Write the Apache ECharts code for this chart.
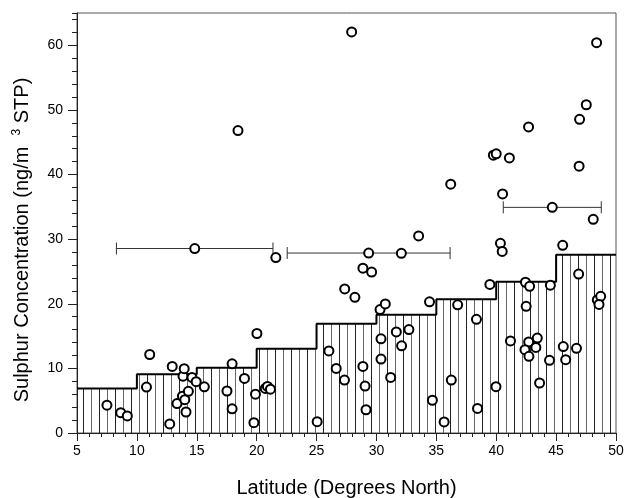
<!DOCTYPE html>
<html>
<head>
<meta charset="utf-8">
<script src="https://cdn.jsdelivr.net/npm/echarts@6/dist/echarts.min.js"></script>
<style>
  html, body { margin: 0; padding: 0; background: #fff; }
  #main { width: 626px; height: 498px; }
</style>
</head>
<body>
<div id="main"></div>
<script>
// sample points, latitude (deg N) and sulphur (ng/m3 STP)
var latitude = [7.5, 8.65, 9.2, 10.8, 11.07, 12.74, 12.95, 13.35, 13.8, 14.0, 14.1, 14.3,
  13.85, 13.95, 14.6, 14.95, 15.63, 17.52, 17.95, 17.95, 18.98, 19.77, 19.9, 20.02,
  20.72, 20.9, 21.15, 18.44, 14.83, 21.6, 25.05,
  26.03, 26.64, 27.33, 27.35, 28.2, 27.93, 28.87, 29.6, 29.35, 32.08, 28.87, 29.05,
  29.13, 30.3, 30.74, 30.38, 30.38, 31.19, 31.66, 32.71, 32.1, 33.52, 34.43, 34.67, 35.65,
  36.2, 36.25, 36.78, 38.35, 38.44, 39.47, 39.76, 40.0, 39.98, 40.35, 40.5, 40.53, 41.1,
  41.19, 42.44, 42.79, 42.5, 42.7, 42.71, 43.43, 42.4, 43.31, 42.73, 43.62, 44.45, 44.52,
  44.68, 45.55, 45.6, 45.8, 46.7, 46.88, 46.92, 46.96, 47.52, 48.1, 48.38, 48.44, 48.72, 48.58];
var sulphur = [4.3, 3.15, 2.65, 7.1, 12.15, 1.4, 10.3, 4.55, 5.7, 5.15, 3.25, 6.45,
  8.8, 9.95, 8.6, 7.95, 7.15, 6.5, 10.7, 3.75, 8.45, 1.6, 6.0, 15.4,
  6.9, 7.2, 6.78, 46.8, 28.55, 27.15, 1.75,
  12.7, 10.0, 8.2, 22.3, 21.0, 62.07, 25.5, 24.9, 27.85, 27.8, 10.3, 7.27,
  3.6, 19.1, 19.97, 14.58, 11.45, 8.6, 15.65, 16.0, 13.5, 30.5, 20.3, 5.07, 1.72,
  38.5, 8.2, 19.83, 17.6, 3.8, 23.0, 43.0, 43.2, 7.17, 29.35, 28.1, 37.0, 42.57,
  14.25, 23.33, 22.7, 19.6, 47.37, 14.1, 14.7, 12.9, 13.25, 11.86, 7.74, 11.25, 22.87,
  34.92, 29.04, 13.38, 11.35, 13.1, 24.6, 41.3, 48.55, 50.8, 33.07, 60.4, 20.6, 21.15, 19.9];

// stepped background level per 5 degree band
var stepEdges = [5, 10, 15, 20, 25, 30, 35, 40, 45, 50];
var stepLevels = [6.9, 9.1, 10.1, 13.05, 16.9, 18.3, 20.7, 23.4, 27.6];

// horizontal error bars
var barCenter = [14.83, 29.35, 44.68];
var barLow = [8.29, 22.55, 40.59];
var barHigh = [21.36, 36.15, 48.77];
var barValue = [28.55, 27.85, 34.92];

var fontFamily = "'Liberation Sans', Arial, sans-serif";

var points = latitude.map(function (x, i) { return [x, sulphur[i]]; });

var stepLine = [];
var bands = [];
for (var i = 0; i < stepLevels.length; i++) {
  stepLine.push([stepEdges[i], stepLevels[i]]);
  bands.push([stepEdges[i], stepEdges[i + 1], stepLevels[i]]);
}
stepLine.push([stepEdges[stepEdges.length - 1], stepLevels[stepLevels.length - 1]]);

var errorBars = barCenter.map(function (c, i) {
  return [c, barLow[i], barHigh[i], barValue[i]];
});

var hatchStart = 5.5;
var hatchGap = 0.667;

function renderHatch(params, api) {
  var x0 = api.value(0), x1 = api.value(1), v = api.value(2);
  var children = [];
  for (var k = 0; ; k++) {
    var x = hatchStart + k * hatchGap;
    if (x >= x1) break;
    if (x < x0) continue;
    var p0 = api.coord([x, 0]);
    var p1 = api.coord([x, v]);
    children.push({
      type: 'line',
      shape: { x1: Math.round(p0[0]) + 0.5, y1: p0[1], x2: Math.round(p1[0]) + 0.5, y2: p1[1] },
      style: { stroke: k % 2 ? '#666' : '#222', lineWidth: 1 }
    });
  }
  return { type: 'group', children: children };
}

function renderErrorBar(params, api) {
  var lo = api.coord([api.value(1), api.value(3)]);
  var hi = api.coord([api.value(2), api.value(3)]);
  var cap = 6;
  var style = { stroke: '#333', lineWidth: 1 };
  return {
    type: 'group',
    children: [
      { type: 'line', shape: { x1: lo[0], y1: lo[1], x2: hi[0], y2: hi[1] }, style: style },
      { type: 'line', shape: { x1: lo[0], y1: lo[1] - cap, x2: lo[0], y2: lo[1] + cap }, style: style },
      { type: 'line', shape: { x1: hi[0], y1: hi[1] - cap, x2: hi[0], y2: hi[1] + cap }, style: style }
    ]
  };
}

var chart = echarts.init(document.getElementById('main'), null, { renderer: 'canvas' });

var option = {
  animation: false,
  backgroundColor: '#fff',
  textStyle: { fontFamily: fontFamily, color: '#000' },
  grid: {
    left: 77, right: 10, top: 13, bottom: 65,
    outerBoundsMode: 'none',
    containLabel: false,
    show: true, borderColor: '#555', borderWidth: 1
  },
  xAxis: {
    type: 'value',
    min: 5, max: 50, interval: 5,
    name: 'Latitude (Degrees North)',
    nameLocation: 'middle',
    nameGap: 45,
    nameTextStyle: { fontSize: 20, fontFamily: fontFamily, color: '#000' },
    axisLine: { lineStyle: { color: '#222', width: 1 } },
    axisTick: { inside: false, length: 8, lineStyle: { color: '#222' } },
    minorTick: { show: true, splitNumber: 5, length: 4, lineStyle: { color: '#222' } },
    axisLabel: { fontSize: 14, color: '#000', margin: 11, fontFamily: fontFamily },
    splitLine: { show: false }
  },
  yAxis: [{
    type: 'value',
    min: 0, max: 65, interval: 10,
    name: 'Sulphur Concentration (ng/m  {sup|3} STP)',
    nameLocation: 'middle',
    nameGap: 44,
    nameTextStyle: {
      fontSize: 20, fontFamily: fontFamily, color: '#000',
      padding: [0, 34, 0, 0],
      rich: { sup: { fontSize: 12, fontFamily: fontFamily, color: '#000', padding: [0, 0, 10, 0] } }
    },
    axisLine: { lineStyle: { color: '#222', width: 1 } },
    axisTick: { length: 9, lineStyle: { color: '#222' } },
    axisLabel: { fontSize: 14, color: '#000', margin: 14, showMaxLabel: false, fontFamily: fontFamily },
    splitLine: { show: false }
  }, {
    // minor ticks every 2 units
    type: 'value',
    position: 'left',
    min: 0, max: 65, interval: 2,
    axisLine: { show: false },
    axisTick: { length: 5, lineStyle: { color: '#222' } },
    axisLabel: { show: false },
    splitLine: { show: false }
  }],
  series: [{
    type: 'custom',
    renderItem: renderHatch,
    data: bands,
    silent: true,
    z: 1
  }, {
    type: 'line',
    step: 'end',
    data: stepLine,
    symbol: 'none',
    lineStyle: { color: '#000', width: 2 },
    z: 2
  }, {
    type: 'custom',
    renderItem: renderErrorBar,
    data: errorBars,
    z: 3
  }, {
    type: 'scatter',
    data: points,
    symbol: 'circle',
    symbolSize: 9,
    itemStyle: { color: '#fff', borderColor: '#000', borderWidth: 2, opacity: 1 },
    z: 4
  }]
};

chart.setOption(option);
</script>
</body>
</html>
